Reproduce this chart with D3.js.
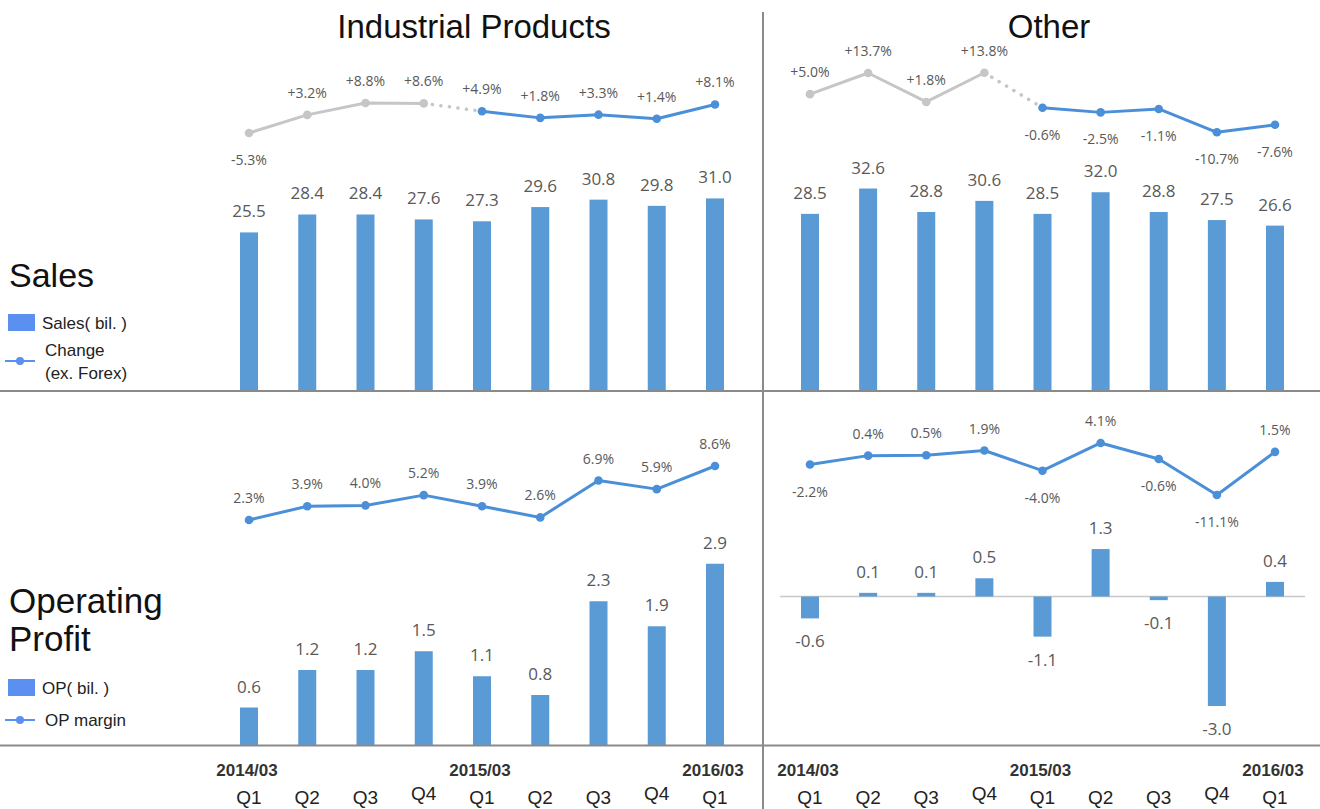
<!DOCTYPE html>
<html>
<head>
<meta charset="utf-8">
<script src="https://cdn.jsdelivr.net/npm/d3@7"></script>
<style>
html,body{margin:0;padding:0;background:#fff;}
svg{display:block;}
</style>
</head>
<body>
<svg id="chart" width="1320" height="809"></svg>
<script>
// ---------- data ----------
const quarters   = ["Q1","Q2","Q3","Q4","Q1","Q2","Q3","Q4","Q1"];
const yearLabels = ["2014/03","","","","2015/03","","","","2016/03"];
const panelTitles = ["Industrial Products","Other"];

const indSales  = [25.5,28.4,28.4,27.6,27.3,29.6,30.8,29.8,31.0];
const indChange = [-5.3,3.2,8.8,8.6,4.9,1.8,3.3,1.4,8.1];
const othSales  = [28.5,32.6,28.8,30.6,28.5,32.0,28.8,27.5,26.6];
const othChange = [5.0,13.7,1.8,13.8,-0.6,-2.5,-1.1,-10.7,-7.6];

const indOP     = [0.6,1.2,1.2,1.5,1.1,0.8,2.3,1.9,2.9];
const indMargin = [2.3,3.9,4.0,5.2,3.9,2.6,6.9,5.9,8.6];
const othOP     = [-0.6,0.1,0.1,0.5,-1.1,1.3,-0.1,-3.0,0.4];
const othMargin = [-2.2,0.4,0.5,1.9,-4.0,4.1,-0.6,-11.1,1.5];

// ---------- styles ----------
const BAR = "#5b9bd5", LINE = "#4a8fd8", GRAY = "#c6c6c6", LBL = "#595959", DIV = "#8a8a8a";
const labelFont = "'Open Sans', sans-serif";
const sans = "'Liberation Sans', Arial, sans-serif";
const svg = d3.select("#chart");
const idx = d3.range(quarters.length);

const xLeft  = d3.scalePoint().domain(idx).range([249, 715]);
const xRight = d3.scalePoint().domain(idx).range([810, 1275]);

const ySalesTop = d3.scaleLinear().domain([0,35]).range([390, 173.7]);
const yChgL = d3.scaleLinear().domain([-10,10]).range([143, 100.4]);
const yChgR = d3.scaleLinear().domain([-15,15]).range([142.75, 69.85]);
const yOPL  = d3.scaleLinear().domain([0,3]).range([745, 557.5]);
const yMarL = d3.scaleLinear().domain([0,10]).range([539.7, 454]);
const yOPR  = d3.scaleLinear().domain([-3,2]).range([706, 523.5]);
const yMarR = d3.scaleLinear().domain([-15,5]).range([508.3, 439.9]);

const fmtPct  = v => (v > 0 ? "+" : "") + v.toFixed(1) + "%";
const fmtPlain = v => v.toFixed(1) + "%";
const fmtNum = v => v.toFixed(1);

function bars(x, y, data, barW) {
  const g = svg.append("g");
  g.selectAll("rect").data(data).join("rect")
    .attr("x", (d,i) => x(i) - barW/2)
    .attr("y", d => Math.min(y(d), y(0)))
    .attr("width", barW)
    .attr("height", d => Math.abs(y(d) - y(0)))
    .attr("fill", BAR);
  g.selectAll("text").data(data).join("text")
    .attr("x", (d,i) => x(i))
    .attr("y", d => d >= 0 ? y(d) - 15 : y(d) + 29)
    .attr("text-anchor", "middle")
    .attr("font-family", labelFont).attr("font-size", 17)
    .attr("fill", LBL)
    .text(fmtNum);
}

function lineSeries(x, y, data, indices, color) {
  const g = svg.append("g");
  const line = d3.line().x(i => x(i)).y(i => y(data[i]));
  g.append("path").attr("d", line(indices))
    .attr("fill", "none").attr("stroke", color).attr("stroke-width", 3)
    .attr("stroke-linejoin", "round");
  g.selectAll("circle").data(indices).join("circle")
    .attr("cx", i => x(i)).attr("cy", i => y(data[i])).attr("r", 4.3)
    .attr("fill", color);
  return g;
}

function lineLabels(x, y, data, fmt, isAbove) {
  svg.append("g").selectAll("text").data(idx).join("text")
    .attr("x", i => x(i))
    .attr("y", i => isAbove(i) ? y(data[i]) - 17 : y(data[i]) + 32)
    .attr("text-anchor", "middle")
    .attr("font-family", labelFont).attr("font-size", 14)
    .attr("fill", LBL)
    .text(i => fmt(data[i]));
}

function connector(x, y, data, a, b) {
  svg.append("line")
    .attr("x1", x(a)).attr("y1", y(data[a]))
    .attr("x2", x(b)).attr("y2", y(data[b]))
    .attr("stroke", GRAY).attr("stroke-width", 3.5)
    .attr("stroke-linecap", "round")
    .attr("stroke-dasharray", "0.1,8.5");
}

// ---------- top panels ----------
bars(xLeft, ySalesTop, indSales, 18);
bars(xRight, ySalesTop, othSales, 18);

connector(xLeft, yChgL, indChange, 3, 4);
lineSeries(xLeft, yChgL, indChange, [0,1,2,3], GRAY);
lineSeries(xLeft, yChgL, indChange, [4,5,6,7,8], LINE);
lineLabels(xLeft, yChgL, indChange, fmtPct, i => i !== 0);

connector(xRight, yChgR, othChange, 3, 4);
lineSeries(xRight, yChgR, othChange, [0,1,2,3], GRAY);
lineSeries(xRight, yChgR, othChange, [4,5,6,7,8], LINE);
lineLabels(xRight, yChgR, othChange, fmtPct, i => i < 4);

// ---------- bottom panels ----------
svg.append("line").attr("x1", 780).attr("x2", 1305)
  .attr("y1", yOPR(0)).attr("y2", yOPR(0))
  .attr("stroke", "#c8c8c8").attr("stroke-width", 1.5);

bars(xLeft, yOPL, indOP, 18);
bars(xRight, yOPR, othOP, 18);

lineSeries(xLeft, yMarL, indMargin, idx, LINE);
lineLabels(xLeft, yMarL, indMargin, fmtPlain, i => true);

lineSeries(xRight, yMarR, othMargin, idx, LINE);
lineLabels(xRight, yMarR, othMargin, fmtPlain, i => othMargin[i] >= 0);

// ---------- dividers ----------
svg.append("line").attr("x1", 0).attr("x2", 1320).attr("y1", 391).attr("y2", 391)
  .attr("stroke", DIV).attr("stroke-width", 2);
svg.append("line").attr("x1", 0).attr("x2", 1320).attr("y1", 745.5).attr("y2", 745.5)
  .attr("stroke", DIV).attr("stroke-width", 2);
svg.append("line").attr("x1", 763).attr("x2", 763).attr("y1", 12).attr("y2", 809)
  .attr("stroke", DIV).attr("stroke-width", 2);

// ---------- titles ----------
[[474, panelTitles[0]], [1049, panelTitles[1]]].forEach(([cx, t]) => {
  svg.append("text").attr("x", cx).attr("y", 38)
    .attr("text-anchor", "middle")
    .attr("font-family", sans).attr("font-size", 33)
    .attr("fill", "#111").text(t);
});

// ---------- x axes ----------
function xAxis(x) {
  const g = svg.append("g");
  g.selectAll("text.q").data(idx).join("text").attr("class","q")
    .attr("x", i => x(i)).attr("y", i => quarters[i] === "Q4" ? 800 : 804)
    .attr("text-anchor", "middle")
    .attr("font-family", sans).attr("font-size", 19)
    .attr("fill", "#222").text(i => quarters[i]);
  g.selectAll("text.yr").data(idx.filter(i => yearLabels[i])).join("text").attr("class","yr")
    .attr("x", i => x(i) - 2).attr("y", 776)
    .attr("text-anchor", "middle")
    .attr("font-family", sans).attr("font-size", 17)
    .attr("font-weight", "bold")
    .attr("fill", "#333").text(i => yearLabels[i]);
}
xAxis(xLeft);
xAxis(xRight);

// ---------- section labels & legends ----------
svg.append("text").attr("x", 9).attr("y", 287).attr("font-family", sans)
  .attr("font-size", 34).attr("fill", "#111").text("Sales");
svg.append("text").attr("x", 9).attr("y", 613).attr("font-family", sans)
  .attr("font-size", 35).attr("fill", "#111").text("Operating");
svg.append("text").attr("x", 9).attr("y", 651).attr("font-family", sans)
  .attr("font-size", 35).attr("fill", "#111").text("Profit");

function legendBox(y, label) {
  svg.append("rect").attr("x", 8).attr("y", y - 9).attr("width", 27).attr("height", 17).attr("fill", "#5b8ff0");
  svg.append("text").attr("x", 42).attr("y", y + 6).attr("font-family", sans)
    .attr("font-size", 17).attr("fill", "#222").text(label);
}
function legendLine(y, lines) {
  svg.append("line").attr("x1", 5).attr("x2", 35).attr("y1", y).attr("y2", y)
    .attr("stroke", "#5b8ff0").attr("stroke-width", 2);
  svg.append("circle").attr("cx", 20).attr("cy", y).attr("r", 4).attr("fill", "#5b8ff0");
  lines.forEach((t, k) => {
    svg.append("text").attr("x", 45).attr("y", y + 6 + (lines.length > 1 ? (k - 0.5) * 23 : 0))
      .attr("font-family", sans).attr("font-size", 17).attr("fill", "#222").text(t);
  });
}
legendBox(323, "Sales( bil. )");
legendLine(361, ["Change", "(ex. Forex)"]);
legendBox(688, "OP( bil. )");
legendLine(720, ["OP margin"]);
</script>
</body>
</html>
